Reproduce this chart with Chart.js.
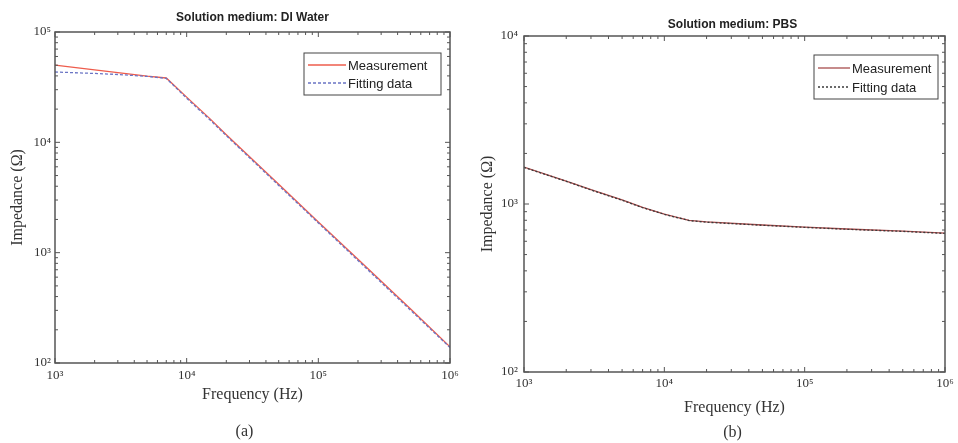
<!DOCTYPE html>
<html>
<head>
<meta charset="utf-8">
<script src="https://cdn.jsdelivr.net/npm/chart.js@4/dist/chart.umd.min.js"></script>
<style>
  body { margin: 0; background: #fff; }
  #wrap { position: relative; width: 958px; height: 443px; }
  .panel { position: absolute; top: 0; }
</style>
</head>
<body>
<div id="wrap">
  <div class="panel" style="left:0"><canvas id="chartA" width="480" height="443"></canvas></div>
  <div class="panel" style="left:480px"><canvas id="chartB" width="478" height="443"></canvas></div>
</div>
<script>
// frequency points (Hz), shared by both panels
const freq = [1000, 2000, 3000, 5000, 7000, 10000, 15000, 20000, 50000, 100000, 200000, 500000, 1000000];

// (a) DI water, impedance in ohm
const diMeasured = [50100, 45400, 42900, 39800, 38300, 25700, 16400, 11700, 4170, 1900, 870, 310, 140];
const diFitting  = [43400, 42100, 41200, 39600, 38000, 25100, 16000, 11500, 4070, 1860, 850, 302, 138];

// (b) PBS, impedance in ohm
const pbsMeasured = [1660, 1370, 1216, 1057, 955, 871, 800, 782, 750, 729, 710, 690, 671];
const pbsFitting  = [1650, 1365, 1212, 1053, 951, 868, 797, 779, 747, 726, 707, 687, 668];

// axis decade ranges
const xDecades = [3, 4, 5, 6];
const yDecadesA = [2, 3, 4, 5];
const yDecadesB = [2, 3, 4];

const SUP = { '0': '⁰', '1': '¹', '2': '²', '3': '³', '4': '⁴', '5': '⁵', '6': '⁶', '7': '⁷', '8': '⁸', '9': '⁹' };
function powLabel(v) {
    const e = Math.round(Math.log10(v));
    return '10' + String(e).split('').map(c => SUP[c]).join('');
}

const textColor = '#333';
const axisColor = '#555';

// frame, inward tick marks, title, caption and legend
const framePlugin = {
    id: 'frame',
    afterDraw(chart, args, o) {
        const { ctx, chartArea: a, scales } = chart;
        const x = scales.x, y = scales.y;
        ctx.save();
        ctx.strokeStyle = axisColor;
        ctx.lineWidth = 1;
        const marks = (scale, horiz) => {
            const lo = Math.floor(Math.log10(scale.min)), hi = Math.ceil(Math.log10(scale.max));
            for (let d = lo; d <= hi; d++) {
                for (let k = 1; k <= 9; k++) {
                    const v = k * Math.pow(10, d);
                    if (v < scale.min * 0.999 || v > scale.max * 1.001) continue;
                    const len = k === 1 ? 5 : 3;
                    const p = scale.getPixelForValue(v);
                    ctx.beginPath();
                    if (horiz) {
                        ctx.moveTo(p, a.bottom); ctx.lineTo(p, a.bottom - len);
                        ctx.moveTo(p, a.top); ctx.lineTo(p, a.top + len);
                    } else {
                        ctx.moveTo(a.left, p); ctx.lineTo(a.left + len, p);
                        ctx.moveTo(a.right, p); ctx.lineTo(a.right - len, p);
                    }
                    ctx.stroke();
                }
            }
        };
        marks(x, true);
        marks(y, false);
        ctx.lineWidth = 1.5;
        ctx.strokeRect(a.left, a.top, a.right - a.left, a.bottom - a.top);

        // title
        const cx = (a.left + a.right) / 2;
        ctx.fillStyle = '#222';
        ctx.textAlign = 'center';
        ctx.textBaseline = 'middle';
        ctx.font = 'bold 12px "Liberation Sans", Arial, sans-serif';
        ctx.fillText(o.title, cx + o.titleDx, o.titleY);
        // caption
        ctx.fillStyle = textColor;
        ctx.font = '16px "Liberation Serif", "Times New Roman", serif';
        ctx.fillText(o.caption, cx + o.captionDx, o.captionY);

        // legend box
        const L = o.legend;
        const bx = a.right - L.right - L.width, by = a.top + L.top;
        ctx.fillStyle = '#fff';
        ctx.fillRect(bx, by, L.width, L.height);
        ctx.strokeStyle = '#444';
        ctx.lineWidth = 1;
        ctx.strokeRect(bx, by, L.width, L.height);
        ctx.font = '13px "Liberation Sans", Arial, sans-serif';
        ctx.textAlign = 'left';
        chart.data.datasets.forEach((ds, i) => {
            const ly = by + L.row0 + i * L.rowGap;
            ctx.beginPath();
            ctx.strokeStyle = ds.borderColor;
            ctx.lineWidth = ds.borderWidth;
            ctx.setLineDash(ds.borderDash || []);
            ctx.moveTo(bx + 4, ly);
            ctx.lineTo(bx + 4 + L.sample, ly);
            ctx.stroke();
            ctx.setLineDash([]);
            ctx.fillStyle = '#222';
            ctx.fillText(ds.label, bx + 6 + L.sample, ly + 1);
        });
        ctx.restore();
    }
};

function makeConfig(p) {
    return {
        type: 'line',
        data: {
            labels: freq,
            datasets: [
                {
                    label: 'Measurement',
                    data: freq.map((f, i) => ({ x: f, y: p.measured[i] })),
                    borderColor: p.measColor,
                    borderWidth: 1.3,
                    pointRadius: 0,
                    tension: 0,
                    order: 1
                },
                {
                    label: 'Fitting data',
                    data: freq.map((f, i) => ({ x: f, y: p.fitting[i] })),
                    borderColor: p.fitColor,
                    borderWidth: 1.3,
                    borderDash: p.fitDash,
                    pointRadius: 0,
                    tension: 0,
                    order: 0
                }
            ]
        },
        options: {
            responsive: false,
            animation: false,
            layout: { padding: p.padding },
            plugins: {
                legend: { display: false },
                tooltip: { enabled: false },
                frame: p.frame
            },
            scales: {
                x: {
                    type: 'logarithmic',
                    position: 'bottom',
                    min: Math.pow(10, xDecades[0]),
                    max: Math.pow(10, xDecades[xDecades.length - 1]),
                    grid: { display: false, drawTicks: false },
                    border: { display: false },
                    afterBuildTicks: s => { s.ticks = xDecades.map(d => ({ value: Math.pow(10, d) })); },
                    afterFit: s => { s.height = p.xHeight; },
                    ticks: {
                        autoSkip: false,
                        maxRotation: 0,
                        padding: p.xTickPad,
                        color: textColor,
                        font: { family: '"Liberation Serif", "Times New Roman", serif', size: 13 },
                        callback: v => powLabel(v)
                    },
                    title: {
                        display: true,
                        text: 'Frequency (Hz)',
                        color: textColor,
                        padding: { top: 0, bottom: 0 },
                        font: { family: '"Liberation Serif", "Times New Roman", serif', size: 16, lineHeight: 1 }
                    }
                },
                y: {
                    type: 'logarithmic',
                    min: Math.pow(10, p.yDecades[0]),
                    max: Math.pow(10, p.yDecades[p.yDecades.length - 1]),
                    grid: { display: false, drawTicks: false },
                    border: { display: false },
                    afterBuildTicks: s => { s.ticks = p.yDecades.map(d => ({ value: Math.pow(10, d) })); },
                    afterFit: s => { s.width = p.yWidth; },
                    ticks: {
                        padding: p.yTickPad,
                        color: textColor,
                        font: { family: '"Liberation Serif", "Times New Roman", serif', size: 13 },
                        callback: v => powLabel(v)
                    },
                    title: {
                        display: true,
                        text: 'Impedance (Ω)',
                        color: textColor,
                        padding: { top: p.yTitlePad, bottom: 0 },
                        font: { family: '"Liberation Serif", "Times New Roman", serif', size: 16, lineHeight: 1 }
                    }
                }
            }
        },
        plugins: [framePlugin]
    };
}

window.onload = function() {
    new Chart(document.getElementById('chartA'), makeConfig({
        measured: diMeasured,
        fitting: diFitting,
        yDecades: yDecadesA,
        measColor: '#ee5c4c',
        fitColor: '#6a74c4',
        fitDash: [3, 2],
        padding: { left: 0, right: 30, top: 32, bottom: 40 },
        xHeight: 40,
        xTickPad: 5,
        yWidth: 55,
        yTickPad: 4,
        yTitlePad: 10,
        frame: {
            title: 'Solution medium: DI Water', titleDx: 0, titleY: 18,
            caption: '(a)', captionDx: -8, captionY: 432,
            legend: { right: 9, top: 21, width: 137, height: 42, row0: 12, rowGap: 18, sample: 38 }
        }
    }));

    new Chart(document.getElementById('chartB'), makeConfig({
        measured: pbsMeasured,
        fitting: pbsFitting,
        yDecades: yDecadesB,
        measColor: '#a84c4c',
        fitColor: '#3a3a3a',
        fitDash: [2, 2],
        padding: { left: 0, right: 13, top: 36, bottom: 27 },
        xHeight: 44,
        xTickPad: 4,
        yWidth: 44,
        yTickPad: 6,
        yTitlePad: 0,
        frame: {
            title: 'Solution medium: PBS', titleDx: -2, titleY: 25,
            caption: '(b)', captionDx: -2, captionY: 433,
            legend: { right: 7, top: 19, width: 124, height: 44, row0: 13, rowGap: 19, sample: 32 }
        }
    }));
};
</script>
</body>
</html>
